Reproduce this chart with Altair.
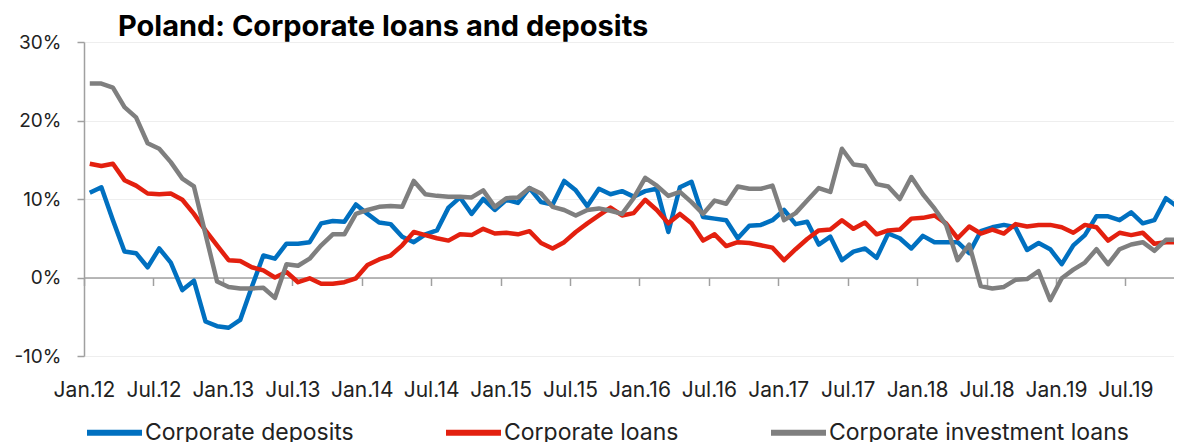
import altair as alt
import pandas as pd

# Monthly observations Jan.12 ... Dec.19 (index 0 = Jan.12)
deposits = [10.8, 11.5, 7.3, 3.3, 3.1, 1.3, 3.7, 1.9, -1.6, -0.4, -5.6, -6.2,
            -6.4, -5.4, -1.2, 2.8, 2.4, 4.3, 4.3, 4.5, 6.9, 7.2, 7.1, 9.3,
            8.1, 7.0, 6.8, 5.2, 4.5, 5.5, 6.0, 8.9, 10.2, 8.1, 10.0, 8.6,
            9.9, 9.5, 11.4, 9.6, 9.3, 12.3, 11.1, 9.1, 11.3, 10.6, 11.0, 10.3,
            11.0, 11.3, 5.8, 11.5, 12.2, 7.7, 7.5, 7.3, 5.0, 6.6, 6.7, 7.3,
            8.6, 6.8, 7.1, 4.2, 5.2, 2.2, 3.3, 3.7, 2.5, 5.6, 5.0, 3.7,
            5.3, 4.5, 4.5, 4.5, 3.1, 5.9, 6.4, 6.7, 6.4, 3.5, 4.4, 3.6,
            1.7, 4.1, 5.4, 7.8, 7.8, 7.3, 8.3, 6.9, 7.3, 10.1, 9.0, 10.3]
loans = [14.5, 14.2, 14.5, 12.4, 11.7, 10.7, 10.6, 10.7, 9.9, 8.1, 6.0, 4.1,
         2.2, 2.1, 1.3, 0.9, 0.0, 0.7, -0.6, -0.1, -0.8, -0.8, -0.6, -0.1,
         1.6, 2.3, 2.8, 4.1, 5.8, 5.4, 5.0, 4.7, 5.5, 5.4, 6.2, 5.6,
         5.7, 5.5, 5.9, 4.4, 3.7, 4.5, 5.8, 6.9, 7.9, 8.9, 7.9, 8.2,
         9.9, 8.6, 6.9, 8.1, 6.9, 4.7, 5.5, 4.0, 4.5, 4.4, 4.1, 3.8,
         2.2, 3.6, 4.9, 6.0, 6.1, 7.3, 6.2, 7.0, 5.5, 6.0, 6.1, 7.5,
         7.6, 7.9, 6.9, 5.0, 6.5, 5.6, 6.1, 5.6, 6.8, 6.5, 6.7, 6.7,
         6.4, 5.7, 6.7, 6.4, 4.7, 5.7, 5.4, 5.7, 4.3, 4.5, 4.5, 3.5]
investment = [24.7, 24.7, 24.2, 21.7, 20.4, 17.1, 16.4, 14.7, 12.6, 11.6, 5.5, -0.5,
              -1.2, -1.4, -1.4, -1.3, -2.6, 1.7, 1.5, 2.4, 4.1, 5.5, 5.5, 8.1,
              8.6, 9.0, 9.1, 9.0, 12.3, 10.6, 10.4, 10.3, 10.3, 10.2, 11.1, 9.0,
              10.1, 10.2, 11.4, 10.7, 9.0, 8.6, 7.9, 8.6, 8.8, 8.5, 8.1, 10.1,
              12.7, 11.7, 10.4, 10.9, 9.6, 8.1, 9.8, 9.4, 11.6, 11.3, 11.3, 11.7,
              7.3, 8.2, 9.8, 11.4, 10.9, 16.4, 14.4, 14.2, 11.9, 11.6, 10.0, 12.8,
              10.6, 8.8, 6.7, 2.2, 4.2, -1.1, -1.4, -1.2, -0.3, -0.2, 0.8, -2.9,
              -0.1, 1.0, 1.9, 3.6, 1.7, 3.6, 4.2, 4.5, 3.4, 4.8, 4.8, 6.0]

series_names = ["Corporate deposits", "Corporate loans", "Corporate investment loans"]
series_colors = ["#0070C0", "#E3200F", "#7F7F7F"]
tick_labels = ["Jan.12", "Jul.12", "Jan.13", "Jul.13", "Jan.14", "Jul.14", "Jan.15", "Jul.15",
               "Jan.16", "Jul.16", "Jan.17", "Jul.17", "Jan.18", "Jul.18", "Jan.19", "Jul.19"]
y_ticks = [-10, 0, 10, 20, 30]

rows = []
for name, vals in zip(series_names, [deposits, loans, investment]):
    for i, v in enumerate(vals):
        rows.append({"idx": i, "value": v, "series": name, "ord": series_names.index(name)})
df = pd.DataFrame(rows)

FONT = "Inter"
tick_vals = [6 * k - 0.5 for k in range(len(tick_labels))]
label_arr = "[" + ",".join("'" + t + "'" for t in tick_labels) + "]"

W, H = 1090, 314

chart = alt.Chart(df).mark_line(strokeWidth=4.5, strokeJoin="round", clip=True).encode(
    x=alt.X("idx:Q",
            scale=alt.Scale(domain=[-0.5, 93.7], nice=False, zero=False),
            axis=alt.Axis(values=tick_vals,
                          labelExpr=label_arr + "[round((datum.value + 0.5) / 6)]",
                          title=None, offset=-H * 10 / 40, tickSize=8, tickColor="#A0A0A0",
                          domainColor="#A0A0A0", domainWidth=1.5, tickWidth=1.5,
                          labelPadding=94, labelOffset=0, labelFont=FONT, labelFontSize=21,
                          labelColor="#222222", labelOverlap=False, labelFlush=False,
                          labelBound=False, grid=False)),
    y=alt.Y("value:Q",
            scale=alt.Scale(domain=[-10, 30], nice=False),
            axis=alt.Axis(values=y_ticks, labelExpr="datum.value + '%'", title=None,
                          tickSize=7, tickColor="#A0A0A0", domainColor="#A0A0A0",
                          domainWidth=1.5, tickWidth=1.5, labelPadding=16,
                          labelFont=FONT, labelFontSize=19, labelColor="#222222",
                          grid=True, gridColor="#EEEEEE", gridWidth=1.2)),
    color=alt.Color("series:N",
                    scale=alt.Scale(domain=series_names, range=series_colors),
                    legend=alt.Legend(title=None, orient="none", direction="horizontal",
                                      legendX=0, legendY=360, symbolType="stroke",
                                      symbolSize=3025, symbolStrokeWidth=6,
                                      labelFont=FONT, labelFontSize=23, labelColor="#222222",
                                      labelOffset=0, columnPadding=80, labelLimit=500)),
    order=alt.Order("ord:Q"),
).properties(
    width=W, height=H,
    title=alt.TitleParams("Poland: Corporate loans and deposits", anchor="start",
                          frame="group", font=FONT, fontSize=29, fontWeight="bold",
                          color="#000000", dx=34, dy=29, baseline="alphabetic", offset=-3),
    padding={"left": 76, "top": 34, "right": 0, "bottom": 86},
    autosize=alt.AutoSizeParams(type="none"),
).configure_view(stroke=None)

chart.save("out.html", embed_options={"renderer": "svg", "actions": False})
